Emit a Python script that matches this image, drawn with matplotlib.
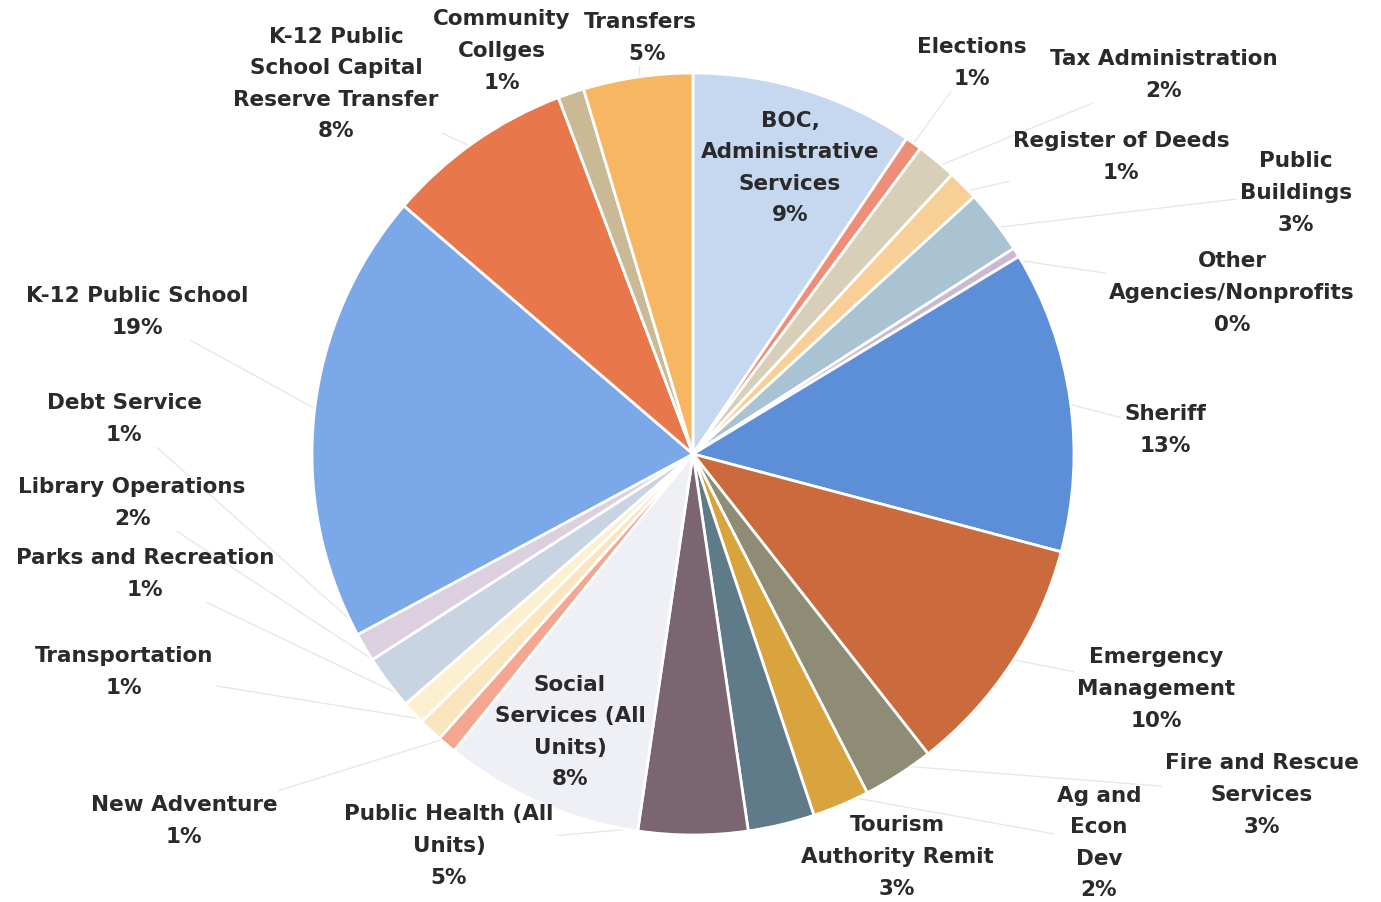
import matplotlib
matplotlib.use("Agg")
import numpy as np
import matplotlib.pyplot as plt

# slices, clockwise from 12 o'clock
names = ["BOC,\nAdministrative\nServices", "Elections", "Tax Administration",
         "Register of Deeds", "Public\nBuildings", "Other\nAgencies/Nonprofits",
         "Sheriff", "Emergency\nManagement", "Fire and Rescue\nServices",
         "Ag and\nEcon\nDev", "Tourism\nAuthority Remit", "Public Health (All\nUnits)",
         "Social\nServices (All\nUnits)", "New Adventure", "Transportation",
         "Parks and Recreation", "Library Operations", "Debt Service",
         "K-12 Public School", "K-12 Public\nSchool Capital\nReserve Transfer",
         "Community\nCollges", "Transfers"]
shares = [9.4, 0.7, 1.7, 1.3, 2.7, 0.4, 12.7, 10.2, 3.0, 2.4, 2.8, 4.6,
          8.4, 0.8, 1.0, 1.0, 2.3, 1.2, 19.0, 7.9, 1.1, 4.6]
colors = ["#c6d8f0", "#ef8e78", "#d8cfb8", "#f8cf96", "#a9c3d3", "#c9b9d2",
          "#5d8fd9", "#cb6b3d", "#8f8c76", "#d9a33d", "#5f7b8a", "#7b6571",
          "#eef0f5", "#f4a690", "#fbe5be", "#fdf0d0", "#c9d4e3", "#dccfe0",
          "#7ba8e9", "#e8784c", "#c9b995", "#f7b762"]

# label text centres in pixels (x, y from top)
label_px = [(790, 168), (972, 63), (1164, 75), (1121, 157), (1296, 193),
            (1232, 293), (1165, 430), (1156, 689), (1262, 795), (1099, 843),
            (897, 857), (449, 846), (570, 732), (184, 821), (124, 672),
            (145, 574), (132, 503), (124, 419), (137, 312), (336, 84),
            (502, 51), (640, 38)]
inside = [0, 12]

W, H = 1381, 903
cx, cy, R = 693, 455, 381

fig = plt.figure(figsize=(W / 100, H / 100), dpi=100)
ax = fig.add_axes([(cx - R) / W, (H - cy - R) / H, 2 * R / W, 2 * R / H])
wedges, _ = ax.pie(shares, colors=colors, startangle=90, counterclock=False,
                   radius=1, wedgeprops=dict(edgecolor="white", linewidth=2))
ax.set_xlim(-1, 1)
ax.set_ylim(-1, 1)
ax.set_aspect("equal")
ax.axis("off")

leaders = []
for i, (w, name, v) in enumerate(zip(wedges, names, shares)):
    px, py = label_px[i]
    lx, ly = (px - cx) / R, (cy - py) / R
    txt = name + "\n" + f"{round(v)}%"
    if name == "Transfers":
        txt = "Transfers\n  5%"
    t = ax.text(lx, ly, txt, ha="center", va="center", fontsize=15.5,
                fontweight="bold", family="DejaVu Sans", color="#2a2a2a",
                linespacing=1.72, clip_on=False, zorder=5)
    if i in inside:
        continue
    mid = np.deg2rad((w.theta1 + w.theta2) / 2)
    leaders.append((t, 0.97 * np.cos(mid), 0.97 * np.sin(mid), lx, ly))

# stop each leader line where it meets its label's box
fig.canvas.draw()
rend = fig.canvas.get_renderer()
inv = ax.transData.inverted()
for t, ex, ey, lx, ly in leaders:
    bb = t.get_window_extent(rend).transformed(inv)
    dx, dy = lx - ex, ly - ey
    s = 0.0
    for a, d, lo, hi in [(ex, dx, bb.x0 - 0.01, bb.x1 + 0.01),
                         (ey, dy, bb.y0 - 0.01, bb.y1 + 0.01)]:
        if abs(d) > 1e-9:
            s = max(s, min((lo - a) / d, (hi - a) / d))
    s = min(max(s, 0.0), 1.0)
    ax.plot([ex, ex + dx * s], [ey, ey + dy * s], color="#e6e6e6", lw=0.9,
            zorder=0.2, clip_on=False)

fig.savefig("out.png", dpi=100, facecolor="white")
